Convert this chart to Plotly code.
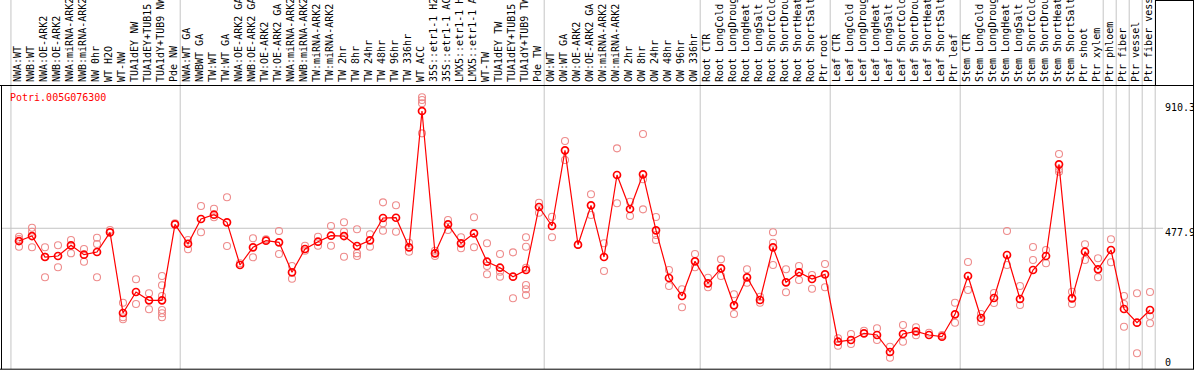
import plotly.graph_objects as go

categories = [
    "NWA:WT", "NWB:WT", "NWA:OE-ARK2", "NWB:OE-ARK2", "NWA:miRNA-ARK2", "NWB:miRNA-ARK2",
    "NW 0hr", "WT H2O", "WT-NW", "TUA1dEY NW", "TUA1dEY+TUB15 NW", "TUA1dY+TUB9 NW", "Pde NW",
    "NWA:WT GA", "NWBWT GA", "TW:WT", "TW:WT GA", "NWA:OE-ARK2 GA", "NWB:OE-ARK2 GA",
    "TW:OE-ARK2", "TW:OE-ARK2 GA", "NWA:miRNA-ARK2 GA", "NWB:miRNA-ARK2 GA", "TW:miRNA-ARK2",
    "TW:miRNA-ARK2 GA", "TW 2hr", "TW 8hr", "TW 24hr", "TW 48hr", "TW 96hr", "TW 336hr",
    "WT ACC", "35S::etr1-1 H2O", "35S::etr1-1 ACC", "LMX5::etr1-1 H2O", "LMX5::etr1-1 ACC",
    "WT-TW", "TUA1dEY TW", "TUA1dEY+TUB15 TW", "TUA1dY+TUB9 TW", "Pde TW",
    "OW:WT", "OW:WT GA", "OW:OE-ARK2", "OW:OE-ARK2 GA", "OW:miRNA-ARK2", "OW:miRNA-ARK2 GA",
    "OW 2hr", "OW 8hr", "OW 24hr", "OW 48hr", "OW 96hr", "OW 336hr",
    "Root CTR", "Root LongCold", "Root LongDrought", "Root LongHeat", "Root LongSalt",
    "Root ShortCold", "Root ShortDrought", "Root ShortHeat", "Root ShortSalt", "Ptr root",
    "Leaf CTR", "Leaf LongCold", "Leaf LongDrought", "Leaf LongHeat", "Leaf LongSalt",
    "Leaf ShortCold", "Leaf ShortDrought", "Leaf ShortHeat", "Leaf ShortSalt", "Ptr leaf",
    "Stem CTR", "Stem LongCold", "Stem LongDrought", "Stem LongHeat", "Stem LongSalt",
    "Stem ShortCold", "Stem ShortDrought", "Stem ShortHeat", "Stem ShortSalt", "Ptr shoot",
    "Ptr xylem", "Ptr phloem", "Ptr fiber", "Ptr vessel", "Ptr fiber vessel",
]

mean_values = [
    434.0, 451.2, 379.0, 382.4, 419.2, 386.9, 396.2, 464.0, 186.2, 258.5, 229.9, 229.9, 491.5,
    424.7, 509.8, 524.6, 498.4, 351.4, 412.4, 435.1, 429.6, 326.3, 406.5, 431.6, 452.3, 451.2,
    416.8, 436.4, 513.2, 514.2, 412.4, 881.5, 391.7, 491.5, 426.1, 460.5, 362.8, 342.1, 311.2,
    334.2, 551.1,
    485.7, 746.2, 421.3, 556.9, 379.0, 661.2, 544.2, 663.6, 470.9, 306.7, 244.7, 364.2,
    288.4, 340.1, 212.7, 309.1, 231.0, 412.4, 291.9, 326.3, 303.2, 319.4,
    87.4, 93.3, 116.3, 110.5, 52.0, 113.9, 123.2, 110.5, 104.6, 181.7,
    313.6, 169.0, 237.8, 385.9, 234.4, 334.2, 382.4, 698.0, 236.8, 397.2,
    336.6, 403.1, 200.0, 152.8, 196.5,
]

replicates = [
    [448.8, 440.9, 414.4], [479.8, 466.0, 412.4], [412.4, 309.1, 380.0], [419.2, 343.5],
    [437.5, 391.7], [406.5, 362.8], [445.4, 423.7, 309.1], [471.9],
    [221.7, 171.4, 164.5], [302.2, 217.2], [254.0, 198.9],
    [313.6, 281.6, 244.7, 196.5, 185.2, 171.4], [495.0],
    [437.5, 405.5], [554.5, 464.0], [545.2, 515.6], [584.5, 416.8], [357.3], [443.3, 377.9],
    [439.9], [468.5, 389.3], [348.0, 304.3], [417.9, 400.7], [448.8, 417.9], [485.7, 417.9],
    [498.4, 466.0, 380.0], [474.3, 391.7, 382.4], [457.1, 414.4], [567.2, 495.0, 469.5],
    [556.9, 466.0], [428.2, 397.2], [928.7, 919.4, 908.0, 804.7], [400.7, 382.4],
    [506.3, 471.9], [446.8, 408.9], [515.6, 412.4], [426.1, 348.0, 319.4],
    [389.3, 328.4, 311.2], [395.1, 236.8], [446.8, 414.4, 342.1, 282.6, 267.8, 248.2],
    [565.9, 531.4],
    [517.7, 446.8], [778.2, 712.8], [421.3], [594.8, 523.5], [426.1, 330.8], [753.1, 563.8],
    [569.3, 520.1], [802.3, 646.4, 543.1], [516.6, 454.7, 437.5], [334.2, 279.1],
    [267.8, 205.8], [389.3, 343.5],
    [307.7, 274.7], [371.0, 313.6], [250.6, 182.8], [336.6, 290.5], [242.3, 221.7],
    [464.0, 428.2, 351.4], [336.6, 257.5], [348.0, 299.8], [317.0, 269.9], [354.9, 274.7],
    [99.1, 73.7], [113.9, 79.5], [125.3], [133.5, 93.3], [70.2, 32.4], [144.9, 87.4],
    [137.0, 109.5], [118.4], [110.5], [221.7, 152.8],
    [361.8, 265.4], [182.8, 155.2], [255.1, 220.6], [468.5, 351.4], [279.1, 213.7],
    [413.4, 368.6], [403.1, 357.3], [733.5, 680.8, 672.6], [259.5, 217.2], [422.7, 368.6],
    [374.5, 309.1], [439.9, 360.7], [244.7, 217.2, 139.1], [254.0, 47.5],
    [258.5, 175.9, 150.8],
]

gene_name = "Potri.005G076300"
axis_labels = [910.3, 477.9, 0]
group_breaks = [-0.62, 12.4, 40.4, 52.4, 62.4, 72.4, 83.4, 84.4, 85.4, 86.4, 87.4]

W, H = 1194, 370
FONT = "DejaVu Sans Mono"

xs = list(range(len(categories)))
rep_x, rep_y = [], []
for i, reps in enumerate(replicates):
    for v in reps:
        rep_x.append(i)
        rep_y.append(v)

fig = go.Figure()
fig.add_trace(go.Scatter(
    x=rep_x, y=rep_y, mode="markers",
    marker=dict(symbol="circle-open", size=7, color="rgb(238,140,140)",
                line=dict(width=1.1, color="rgb(238,140,140)")),
    hoverinfo="skip", showlegend=False, cliponaxis=False,
))
fig.add_trace(go.Scatter(
    x=xs, y=mean_values, mode="lines+markers",
    line=dict(color="#ff0000", width=1.2),
    marker=dict(symbol="circle-open", size=7, color="#ff0000",
                line=dict(width=1.7, color="#ff0000")),
    showlegend=False, cliponaxis=False,
))

shapes = []
GRAY = "#c4c4c4"
for b in group_breaks:
    shapes.append(dict(type="line", xref="x", yref="paper", x0=b, x1=b,
                       y0=1 / H, y1=1, line=dict(color=GRAY, width=1), layer="below"))
shapes.append(dict(type="line", xref="paper", yref="y", x0=2 / W, x1=1163 / W,
                   y0=axis_labels[1], y1=axis_labels[1], line=dict(color=GRAY, width=1),
                   layer="below"))
BLACK = "#000000"
shapes += [
    dict(type="line", xref="paper", yref="paper", x0=0, x1=1, y0=(H - 85.5) / H,
         y1=(H - 85.5) / H, line=dict(color=BLACK, width=1)),
    dict(type="line", xref="paper", yref="paper", x0=0, x1=1, y0=0.8 / H, y1=0.8 / H,
         line=dict(color=BLACK, width=1)),
    dict(type="line", xref="paper", yref="paper", x0=1.5 / W, x1=1.5 / W,
         y0=0.8 / H, y1=(H - 85.5) / H, line=dict(color=BLACK, width=1)),
    dict(type="line", xref="paper", yref="paper", x0=1155.5 / W, x1=1155.5 / W,
         y0=(H - 85.5) / H, y1=1, line=dict(color=BLACK, width=1)),
    dict(type="line", xref="paper", yref="paper", x0=1155.5 / W, x1=1, y0=(H - 0.5) / H,
         y1=(H - 0.5) / H, line=dict(color=BLACK, width=1)),
    dict(type="line", xref="paper", yref="paper", x0=1193.5 / W, x1=1193.5 / W,
         y0=0.8 / H, y1=1, line=dict(color=BLACK, width=1)),
]

annotations = [
    dict(text=gene_name, xref="paper", yref="paper", x=8 / W, y=(H - 97) / H,
         xanchor="left", yanchor="middle", showarrow=False,
         font=dict(family=FONT, size=10, color="#ff0000")),
]
for v in axis_labels[:2]:
    annotations.append(dict(text=str(v), xref="paper", yref="y", x=1162.5 / W, y=v,
                            xanchor="left", yanchor="top", yshift=3, showarrow=False,
                            font=dict(family=FONT, size=10, color=BLACK)))
annotations.append(dict(text=str(axis_labels[2]), xref="paper", yref="paper",
                        x=1162.5 / W, y=(H - 362) / H, xanchor="left", yanchor="middle",
                        showarrow=False, font=dict(family=FONT, size=10, color=BLACK)))

fig.update_layout(
    width=W, height=H, margin=dict(l=0, r=0, t=0, b=0),
    paper_bgcolor="white", plot_bgcolor="white",
    xaxis=dict(domain=[2 / W, 1156 / W], range=[-17 / 13, 1137 / 13],
               side="top", tickmode="array", tickvals=xs, ticktext=categories,
               tickangle=-90, ticks="", showgrid=False, zeroline=False, showline=False,
               tickfont=dict(family=FONT, size=10, color=BLACK), automargin=False,
               ticklabelstandoff=2, ticklabelshift=-1),
    yaxis=dict(domain=[1 / H, 285 / H], range=[-6.54, 971.1], showticklabels=False,
               showgrid=False, zeroline=False, showline=False, ticks=""),
    shapes=shapes, annotations=annotations,
)

fig.write_html("out.html", config={"displayModeBar": False},
               post_script="document.body.style.margin='0';document.body.style.overflow='hidden';")
